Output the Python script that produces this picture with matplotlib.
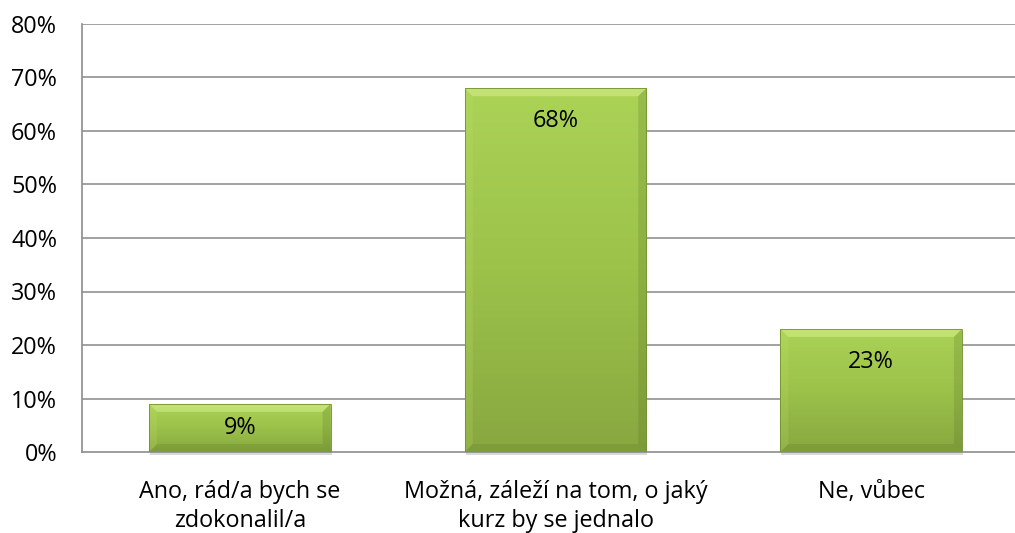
import numpy as np
import matplotlib.pyplot as plt
from matplotlib.patches import Rectangle, Polygon
from matplotlib.colors import LinearSegmentedColormap
from matplotlib.ticker import PercentFormatter

plt.rcParams['font.family'] = ['Open Sans', 'DejaVu Sans']

# --- data ---
categories = ['Ano, rád/a bych se\nzdokonalil/a',
              'Možná, záleží na tom, o jaký\nkurz by se jednalo',
              'Ne, vůbec']
values = [0.09, 0.68, 0.23]
value_labels = ['9%', '68%', '23%']
y_ticks = [0, 0.1, 0.2, 0.3, 0.4, 0.5, 0.6, 0.7, 0.8]

BAR_W = 0.575
FS = 16.8
green = LinearSegmentedColormap.from_list('bar_green', ['#88a840', '#9cc24a', '#abd356'])

fig = plt.figure(figsize=(10.15, 5.33), dpi=100)
# plot area runs off the right edge of the picture, like the original
ax = fig.add_axes([82 / 1015, 81 / 533, 947 / 1015, 428 / 533])

x = np.arange(len(categories))
ax.set_xlim(-0.5, 2.5)
ax.set_ylim(0, 0.8)

for t in y_ticks[1:]:
    ax.axhline(t, color='#9a9a9a', lw=1.3, zorder=1)

# bevel sizes in data units (~8 px)
bx = 8 / 316
by = 8 / 535

for xi, v, lab in zip(x, values, value_labels):
    x0, x1 = xi - BAR_W / 2, xi + BAR_W / 2
    # soft drop shadow
    ax.add_patch(Rectangle((x0 + 0.003, -0.005), BAR_W, v, color='#000000', alpha=0.15,
                           lw=0, zorder=2, clip_on=False))
    rect = Rectangle((x0, 0), BAR_W, v, facecolor='none', edgecolor='#72902f', lw=0.6, zorder=4)
    ax.add_patch(rect)
    grad = np.linspace(0, 1, 100).reshape(-1, 1)
    im = ax.imshow(grad, extent=(x0, x1, 0, v), origin='lower', cmap=green, aspect='auto',
                   zorder=3, interpolation='bicubic')
    im.set_clip_path(rect)
    # bevel edges
    ax.add_patch(Polygon([(x0, v), (x1, v), (x1 - bx, v - by), (x0 + bx, v - by)],
                         closed=True, color='#d8ef90', alpha=0.55, lw=0, zorder=3.5))
    ax.add_patch(Polygon([(x0, 0), (x0, v), (x0 + bx, v - by), (x0 + bx, by)],
                         closed=True, color='#c2e070', alpha=0.2, lw=0, zorder=3.5))
    ax.add_patch(Polygon([(x1, 0), (x1, v), (x1 - bx, v - by), (x1 - bx, by)],
                         closed=True, color='#4e6620', alpha=0.2, lw=0, zorder=3.5))
    ax.add_patch(Polygon([(x0, 0), (x1, 0), (x1 - bx, by), (x0 + bx, by)],
                         closed=True, color='#4e6620', alpha=0.18, lw=0, zorder=3.5))
    ax.text(xi, v - min(0.061, v / 2), lab, ha='center', va='center', fontsize=FS,
            color='black', zorder=5)

ax.set_xticks(x)
ax.set_xticklabels(categories, fontsize=FS, linespacing=1.3)
ax.set_yticks(y_ticks)
ax.yaxis.set_major_formatter(PercentFormatter(1.0, decimals=0))
ax.tick_params(axis='y', length=0, pad=18, labelsize=FS)
ax.tick_params(axis='x', length=0, pad=20)

for side in ['top', 'right']:
    ax.spines[side].set_visible(False)
ax.spines['left'].set_color('#8c8c8c')
ax.spines['bottom'].set_color('#8c8c8c')
ax.spines['left'].set_linewidth(1.2)
ax.spines['bottom'].set_linewidth(1.2)

fig.savefig('out.png', dpi=100)
